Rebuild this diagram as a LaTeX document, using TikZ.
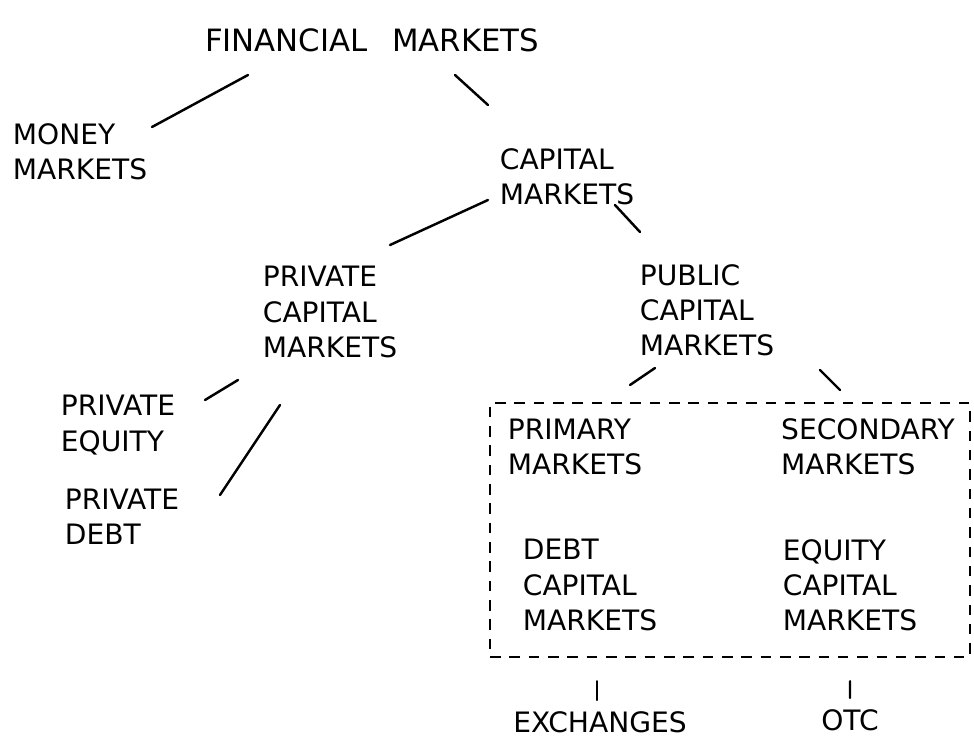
\documentclass[tikz,border=0pt]{standalone}
\usepackage{fontspec}
\setmainfont{DejaVu Sans}
\begin{document}
\begin{tikzpicture}[
	every node/.style={align=left, font=\fontsize{16}{20}\selectfont},
	branch/.style={line width=1.4pt, line cap=round},
	groupbox/.style={draw, line width=1.4pt, dash pattern=on 6pt off 5pt}
	]
	\useasboundingbox (0,0) rectangle (19.48,-15.04);

	\node[font=\fontsize{17.5}{21}\selectfont] (fin) at (7.44,-0.8) {FINANCIAL\hspace{14pt}MARKETS};
	\node (money) at (1.6,-3.04) {MONEY\\MARKETS};
	\node (cap) at (11.34,-3.54) {CAPITAL\\MARKETS};
	\node (privcap) at (6.6,-6.24) {PRIVATE\\CAPITAL\\MARKETS};
	\node (pubcap) at (14.14,-6.2) {PUBLIC\\CAPITAL\\MARKETS};
	\node (priveq) at (2.36,-8.5) {PRIVATE\\EQUITY};
	\node (privdebt) at (2.44,-10.34) {PRIVATE\\DEBT};

	\node[groupbox, minimum width=9.6cm, minimum height=5.08cm] (box) at (14.6,-10.6) {};
	\node (prim) at (11.5,-8.94) {PRIMARY\\MARKETS};
	\node (second) at (17.36,-8.94) {SECONDARY\\MARKETS};
	\node (debtcap) at (11.8,-11.7) {DEBT\\CAPITAL\\MARKETS};
	\node (eqcap) at (17.0,-11.7) {EQUITY\\CAPITAL\\MARKETS};

	\node (exch) at (12.0,-14.44) {EXCHANGES};
	\node (otc) at (17.0,-14.4) {OTC};

	\draw[branch] ([shift={(-2.48,-0.7)}]fin.center) -- ([shift={(1.44,0.5)}]money.center);
	\draw[branch] ([shift={(1.66,-0.7)}]fin.center) -- ([shift={(-1.58,1.44)}]cap.center);
	\draw[branch] ([shift={(-1.58,-0.46)}]cap.center) -- ([shift={(1.2,1.34)}]privcap.center);
	\draw[branch] ([shift={(0.96,-0.56)}]cap.center) -- ([shift={(-1.34,1.56)}]pubcap.center);

	\draw[branch] ([shift={(-1.84,-1.36)}]privcap.center) -- ([shift={(1.74,0.5)}]priveq.center);
	\draw[branch] ([shift={(-1.0,-1.86)}]privcap.center) -- ([shift={(1.96,0.44)}]privdebt.center);

	\draw[branch] ([shift={(-1.04,-1.16)}]pubcap.center) -- ([shift={(1.1,1.24)}]prim.center);
	\draw[branch] ([shift={(2.26,-1.2)}]pubcap.center) -- ([shift={(-0.56,1.14)}]second.center);

	\draw[branch] ([shift={(-2.66,-0.46)}]box.south) -- ([shift={(-0.06,0.44)}]exch.center);
	\draw[branch] ([shift={(2.4,-0.46)}]box.south) -- ([shift={(0,0.44)}]otc.center);
\end{tikzpicture}
\end{document}
